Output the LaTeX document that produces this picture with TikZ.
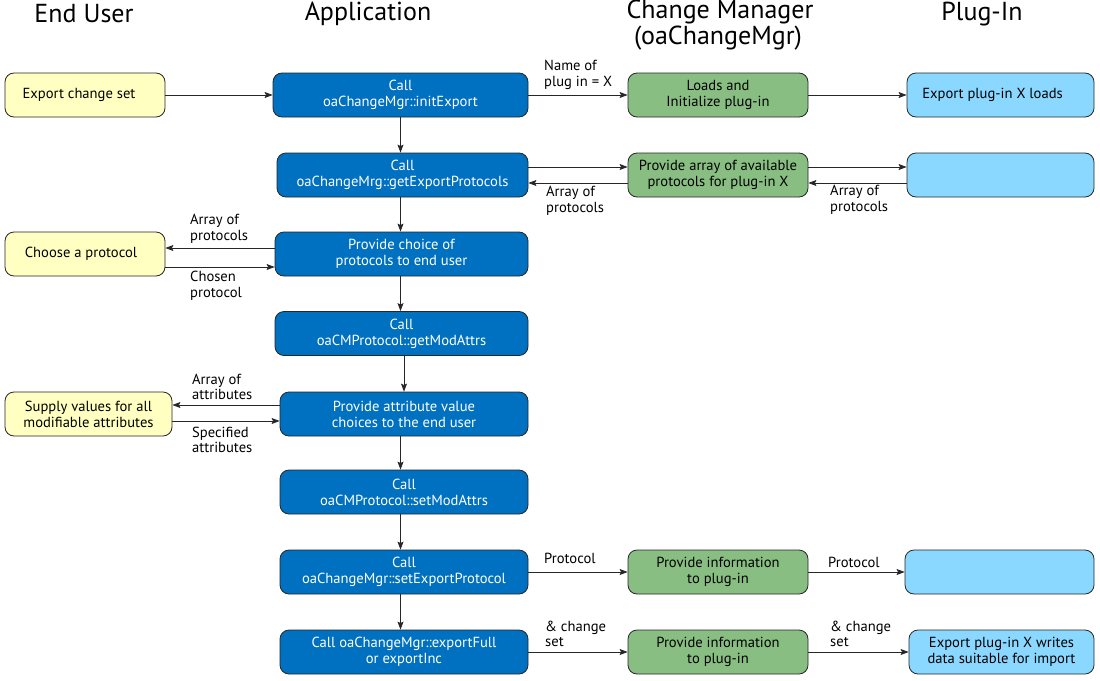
\documentclass[tikz,border=0pt]{standalone}
\usepackage{fontspec}
\setmainfont{PT Sans}
\usetikzlibrary{arrows.meta}
\definecolor{euY}{HTML}{FFFFC2}
\definecolor{appB}{HTML}{0070C0}
\definecolor{cmG}{HTML}{89BE83}
\definecolor{piB}{HTML}{8AD8FF}
\begin{document}
\begin{tikzpicture}[x=1pt,y=-1pt,
  basebox/.style={draw=black!85, line width=0.8pt, rounded corners=9pt, minimum height=44pt,
    inner sep=2pt, align=center, font=\fontsize{14.6}{16}\selectfont},
  eubox/.style={basebox, fill=euY},
  appbox/.style={basebox, fill=appB, text=white},
  cmbox/.style={basebox, fill=cmG},
  pibox/.style={basebox, fill=piB},
  arr/.style={-{Stealth[length=8pt,width=6pt,inset=1.5pt]}, line width=0.8pt, draw=black!85},
  lbl/.style={font=\fontsize{14.6}{15.5}\selectfont, align=left, inner sep=0pt, anchor=west},
  hdr/.style={font=\fontsize{26}{28}\selectfont, inner sep=0pt}]
\useasboundingbox (0,0) rectangle (1100,680);

% headers
\node[hdr] (hEU) at (84,14) {End User};
\node[hdr] (hApp) at (368,14) {Application};
\node[hdr] (hCM1) at (720,12) {Change Manager};
\node[hdr] (hCM2) at (718,38) {(oaChangeMgr)};
\node[hdr] (hPI) at (982,14) {Plug-In};

% row 1
\node[eubox, minimum width=160pt] (eu1) at (85,95) {Export change set\hspace*{12pt}};
\node[appbox, minimum width=255pt] (app1) at (400.5,95) {Call\\oaChangeMgr::initExport};
\node[cmbox, minimum width=180pt] (cm1) at (718,95) {Loads and\\Initialize plug-in};
\node[pibox, minimum width=187pt] (pi1) at (1000.5,95) {Export plug-in X loads\hspace*{16pt}};

% row 2
\node[appbox, minimum width=251pt] (app2) at (402.5,175) {Call\\oaChangeMrg::getExportProtocols};
\node[cmbox, minimum width=180pt] (cm2) at (718,175) {Provide array of available\\protocols for plug-in X};
\node[pibox, minimum width=187pt] (pi2) at (1000.5,175) {};

% row 3
\node[eubox, minimum width=160pt] (eu3) at (85,254) {Choose a protocol\hspace*{8pt}};
\node[appbox, minimum width=253pt] (app3) at (401.5,254) {Provide choice of\\protocols to end user};

% row 4
\node[appbox, minimum width=253pt] (app4) at (401.5,333.5) {Call\\oaCMProtocol::getModAttrs};

% row 5
\node[eubox, minimum width=167pt] (eu5) at (88.5,414) {Supply values for all\\modifiable attributes};
\node[appbox, minimum width=248pt] (app5) at (404,414) {Provide attribute value\\choices to the end user};

% row 6
\node[appbox, minimum width=248pt] (app6) at (404,492) {Call\\oaCMProtocol::setModAttrs};

% row 7
\node[appbox, minimum width=248pt] (app7) at (404,572) {Call\\oaChangeMgr::setExportProtocol};
\node[cmbox, minimum width=180pt] (cm7) at (718,572) {Provide information\\to plug-in};
\node[pibox, minimum width=189pt] (pi7) at (999.5,572) {};

% row 8
\node[appbox, minimum width=248pt] (app8) at (404,652) {Call oaChangeMgr::exportFull\\or exportInc};
\node[cmbox, minimum width=180pt] (cm8) at (718,652) {Provide information\\to plug-in};
\node[pibox, minimum width=185pt] (pi8) at (1001.5,652) {Export plug-in X writes\\data suitable for import};

% horizontal arrows row 1
\draw[arr] (eu1.east) -- (app1.west);
\draw[arr] (app1.east) -- (cm1.west);
\draw[arr] (cm1.east) -- (pi1.west);
\node[lbl] (l1) at (544,75) {Name of\\plug in = X};

% row 2
\draw[arr] ([yshift=8pt]app2.east) -- ([yshift=8pt]cm2.west);
\draw[arr] ([yshift=-8pt]cm2.west) -- ([yshift=-8pt]app2.east);
\draw[arr] ([yshift=8pt]cm2.east) -- ([yshift=8pt]pi2.west);
\draw[arr] ([yshift=-8pt]pi2.west) -- ([yshift=-8pt]cm2.east);
\node[lbl] (l2a) at (546,201) {Array of\\protocols};
\node[lbl] (l2b) at (830,200) {Array of\\protocols};

% row 3
\draw[arr] ([yshift=6pt]app3.west) -- ([yshift=6pt]eu3.east);
\draw[arr] ([yshift=-13pt]eu3.east) -- ([yshift=-13pt]app3.west);
\node[lbl] (l3a) at (190,229) {Array of\\protocols};
\node[lbl] (l3b) at (190,286) {Chosen\\protocol};

% row 5
\draw[arr] ([yshift=9pt]app5.west) -- ([yshift=9pt]eu5.east);
\draw[arr] ([yshift=-7pt]eu5.east) -- ([yshift=-7pt]app5.west);
\node[lbl] (l5a) at (192,387) {Array of\\attributes};
\node[lbl] (l5b) at (192,440) {Specified\\attributes};

% row 7
\draw[arr] (app7.east) -- (cm7.west);
\draw[arr] (cm7.east) -- (pi7.west);
\node[lbl] (l7a) at (544,558) {Protocol};
\node[lbl] (l7b) at (828,562) {Protocol};

% row 8
\draw[arr] (app8.east) -- (cm8.west);
\draw[arr] (cm8.east) -- (pi8.west);
\node[lbl] (l8a) at (545,634) {\& change\\set};
\node[lbl] (l8b) at (830,634) {\& change\\set};

% vertical arrows
\draw[arr] (app1.south) -- (app1.south |- app2.north);
\draw[arr] (app2.south -| app1.south) -- (app3.north -| app1.south);
\draw[arr] (app3.south -| app1.south) -- (app4.north -| app1.south);
\draw[arr] ([xshift=2.5pt]app4.south) -- ([xshift=2.5pt]app4.south |- app5.north);
\draw[arr] (app5.south -| app1.south) -- (app6.north -| app1.south);
\draw[arr] (app6.south -| app1.south) -- (app7.north -| app1.south);
\draw[arr] (app7.south -| app1.south) -- (app8.north -| app1.south);
\end{tikzpicture}
\end{document}
